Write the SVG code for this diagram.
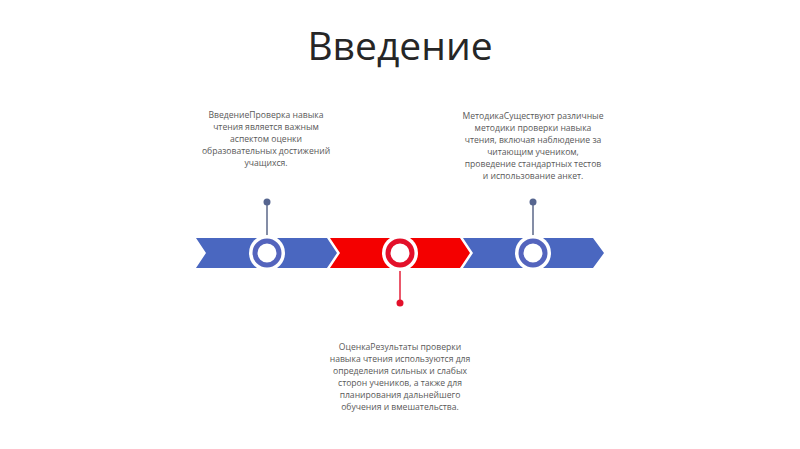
<svg xmlns="http://www.w3.org/2000/svg" width="800" height="449" viewBox="0 0 800 449">
<style>
.title{font-family:"Open Sans","DejaVu Sans",sans-serif;font-size:39px;fill:#262626;text-anchor:middle}
.desc{font-family:"Open Sans","DejaVu Sans",sans-serif;font-size:8.6px;fill:#595959;text-anchor:middle}
.blue{fill:#4a67c0}
.red{fill:#f40000}
.ringb{fill:#ffffff;stroke:#5464bd;stroke-width:5}
.ringr{fill:#ffffff;stroke:#e3102a;stroke-width:5}
.halo{fill:#ffffff}
.pinb{stroke:#5b6789;stroke-width:1.5}
.pinr{stroke:#e3203a;stroke-width:1.5}
.dotb{fill:#56658f}
.dotr{fill:#e3102a}
</style>
<rect width="800" height="449" fill="#ffffff"/>
<text class="title" x="400" y="60">Введение</text>
<g id="bar">
<path class="blue" d="M196,238 L327,238 L337,253 L327,268 L196,268 L206,253 Z"/>
<path class="red" d="M330,238 L460,238 L470,253 L460,268 L330,268 L340,253 Z"/>
<path class="blue" d="M463,238 L593,238 L604,253 L593,268 L463,268 L473,253 Z"/>
</g>
<g id="connectors">
<line class="pinb" x1="267" y1="202" x2="267" y2="238"/>
<line class="pinr" x1="400" y1="268" x2="400" y2="303"/>
<line class="pinb" x1="533" y1="202" x2="533" y2="238"/>
<circle class="dotb" cx="267" cy="202" r="3.5"/>
<circle class="dotr" cx="400" cy="303" r="3.5"/>
<circle class="dotb" cx="533" cy="202" r="3.5"/>
</g>
<g id="node-intro">
<circle class="halo" cx="267" cy="253" r="18"/>
<circle class="ringb" cx="267" cy="253" r="12"/>
<text class="desc" x="266" y="118">ВведениеПроверка навыка</text>
<text class="desc" x="266" y="130">чтения является важным</text>
<text class="desc" x="266" y="142">аспектом оценки</text>
<text class="desc" x="266" y="154">образовательных достижений</text>
<text class="desc" x="266" y="166">учащихся.</text>
</g>
<g id="node-assessment">
<circle class="halo" cx="400" cy="253" r="18"/>
<circle class="ringr" cx="400" cy="253" r="12"/>
<text class="desc" x="400" y="350">ОценкаРезультаты проверки</text>
<text class="desc" x="400" y="362">навыка чтения используются для</text>
<text class="desc" x="400" y="374">определения сильных и слабых</text>
<text class="desc" x="400" y="386">сторон учеников, а также для</text>
<text class="desc" x="400" y="398">планирования дальнейшего</text>
<text class="desc" x="400" y="410">обучения и вмешательства.</text>
</g>
<g id="node-method">
<circle class="halo" cx="533" cy="253" r="18"/>
<circle class="ringb" cx="533" cy="253" r="12"/>
<text class="desc" x="533" y="119">МетодикаСуществуют различные</text>
<text class="desc" x="533" y="131">методики проверки навыка</text>
<text class="desc" x="533" y="143">чтения, включая наблюдение за</text>
<text class="desc" x="533" y="155">читающим учеником,</text>
<text class="desc" x="533" y="167">проведение стандартных тестов</text>
<text class="desc" x="533" y="179">и использование анкет.</text>
</g>
</svg>
